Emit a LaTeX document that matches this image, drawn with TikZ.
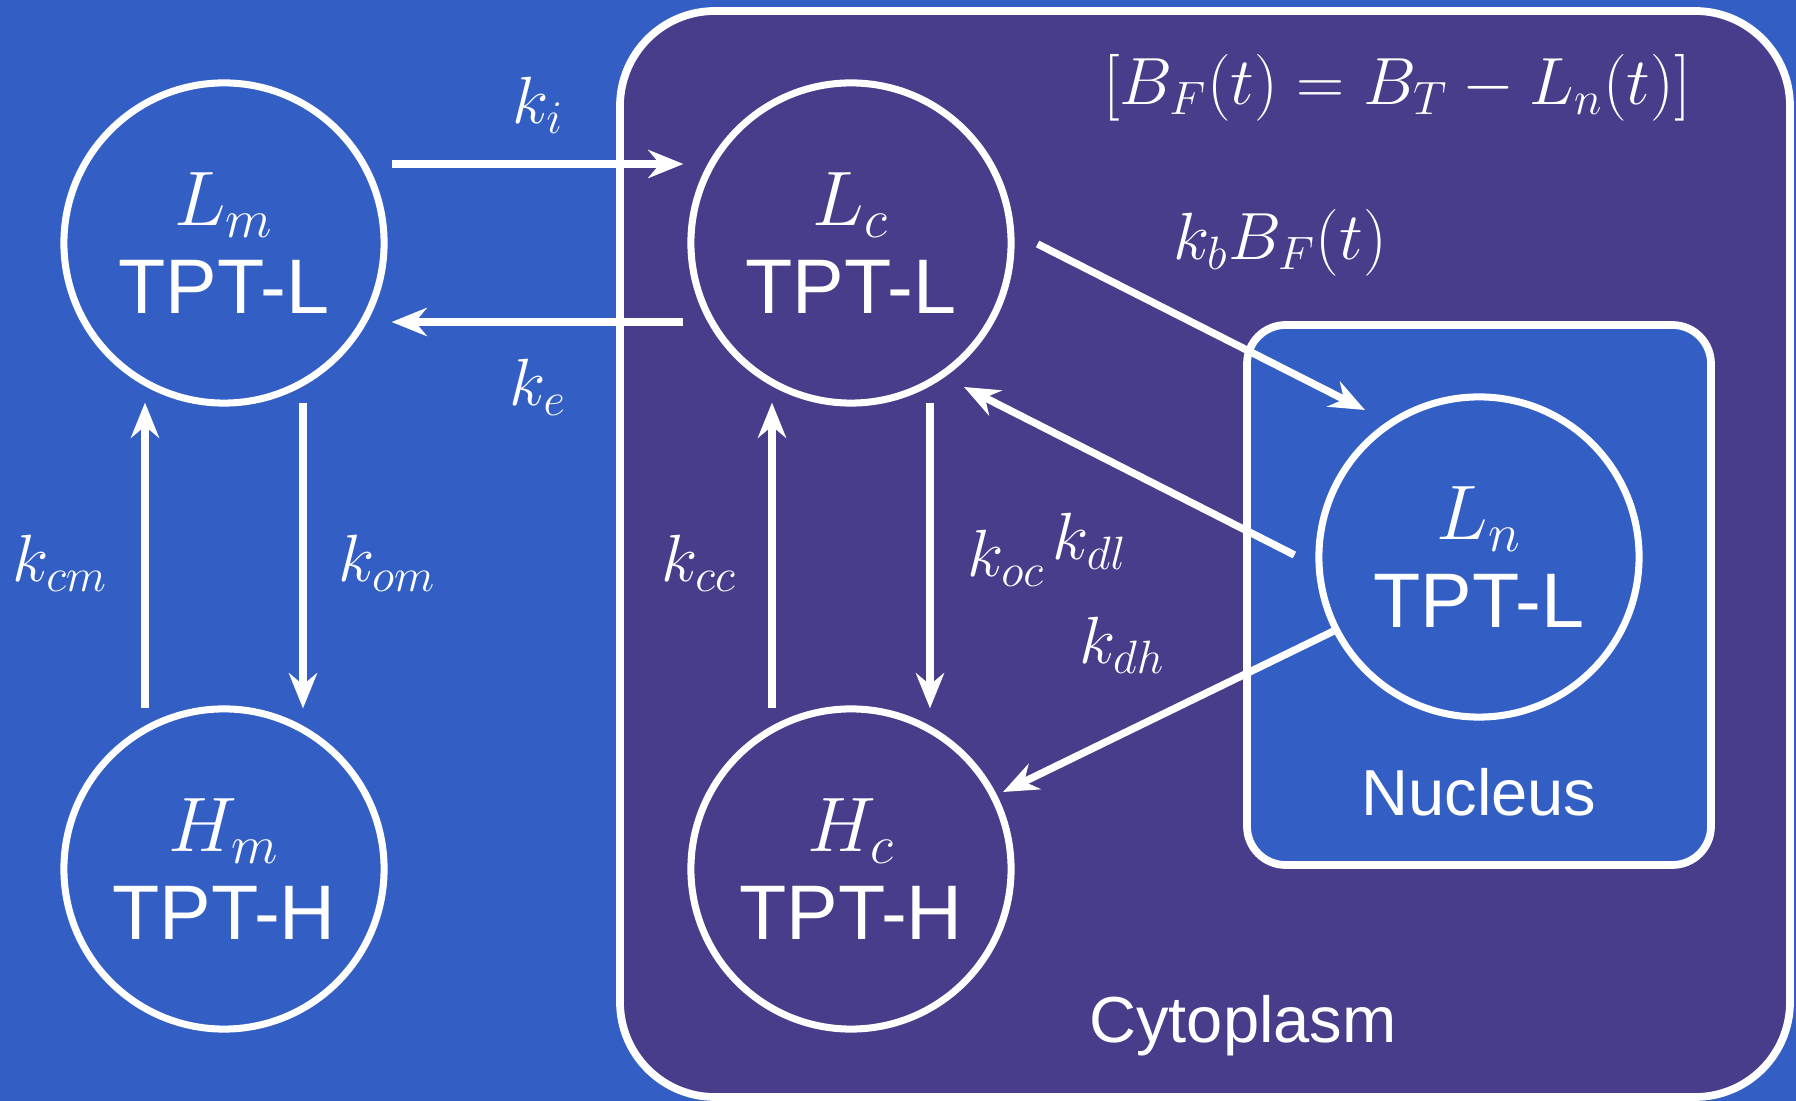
\documentclass[tikz,border=0pt]{standalone}
\usepackage{fix-cm}
\usepackage{fontspec}
\newfontfamily\helv{Liberation Sans}
\usetikzlibrary{arrows.meta,calc}
\definecolor{bgblue}{HTML}{335FC5}
\definecolor{cytopurple}{HTML}{483D8B}

\begin{document}
\begin{tikzpicture}[>={Stealth[length=10pt,width=8pt,inset=3.3pt]},x=0.01cm,y=-0.01cm,
  species/.style={circle,draw=white,line width=2pt,minimum size=3.2cm,inner sep=0pt,
                  align=center,text=white,font=\helv\fontsize{22}{25}\selectfont},
  rate/.style={text=white,font=\fontsize{19}{23}\selectfont},
  region/.style={text=white,font=\helv\fontsize{18.5}{22}\selectfont},
  flow/.style={white,line width=2.1pt,->}]

  % =====================================================================
  % COMPARTMENTS
  % =====================================================================
  \fill[bgblue] (0,0) rectangle (1796,1101);
  \useasboundingbox (0,0) rectangle (1796,1101);

  % cytoplasm
  \draw[white,line width=2.2pt,fill=cytopurple,rounded corners=27pt]
        (620,11) rectangle (1790,1097);
  % nucleus
  \draw[white,line width=2.2pt,fill=bgblue,rounded corners=11pt]
        (1247,325) rectangle (1711,865);

  \node[region] (cyto) at (1243,1026) {Cytoplasm};
  \node[region] (nucl) at (1479,792) {Nucleus};
  \node[rate] (bfree) at (1397,88) {$[B_F(t) = B_T - L_n(t)]$};

  % =====================================================================
  % SPECIES
  % =====================================================================
  \node[species] (Lm) at (224,243) {$L_m$\\TPT-L};
  \node[species] (Hm) at (224,869) {$H_m$\\TPT-H};
  \node[species] (Lc) at (851,243) {$L_c$\\TPT-L};
  \node[species] (Hc) at (851,869) {$H_c$\\TPT-H};
  \node[species] (Ln) at (1479,557) {$L_n$\\TPT-L};

  % =====================================================================
  % TRANSFERS
  % =====================================================================
  % uptake / efflux
  \draw[flow] ($(Lm.east)+(4,-79)$) -- ($(Lc.west)+(-4,-79)$);
  \draw[flow] ($(Lc.west)+(-4,79)$) -- ($(Lm.east)+(4,79)$);

  % lactone <-> carboxylate (up: closing, down: opening)
  \foreach \up/\lo in {Lm/Hm, Lc/Hc} {
    \draw[flow] ($(\lo.north)+(-79,3)$) -- ($(\up.south)+(-79,-4)$);
    \draw[flow] ($(\up.south)+(79,-4)$) -- ($(\lo.north)+(79,3)$);
  }

  % nuclear binding / release
  \draw[flow] ($(Lc.east)+(23,1)$) -- ($(Ln.center)+(-114,-147)$);
  \draw[flow] ($(Ln.west)+(-21,-2)$) -- ($(Lc.center)+(113,144)$);
  \draw[flow] (Ln.207) -- ($(Hc.center)+(152,-77)$);

  % rate labels
  \node[rate] (ki)  at (538,105) {$k_i$};
  \node[rate] (ke)  at (538,387) {$k_e$};
  \node[rate] (kcm) at (60,563)  {$k_{cm}$};
  \node[rate] (kom) at (387,563) {$k_{om}$};
  \node[rate] (kcc) at (699,563) {$k_{cc}$};
  \node[rate] (koc) at (1006,558) {$k_{oc}$};
  \node[rate] (kdl) at (1090,541) {$k_{dl}$};
  \node[rate] (kdh) at (1122,645) {$k_{dh}$};
  \node[rate] (kb)  at (1280,243) {$k_b B_F(t)$};

\end{tikzpicture}
\end{document}
